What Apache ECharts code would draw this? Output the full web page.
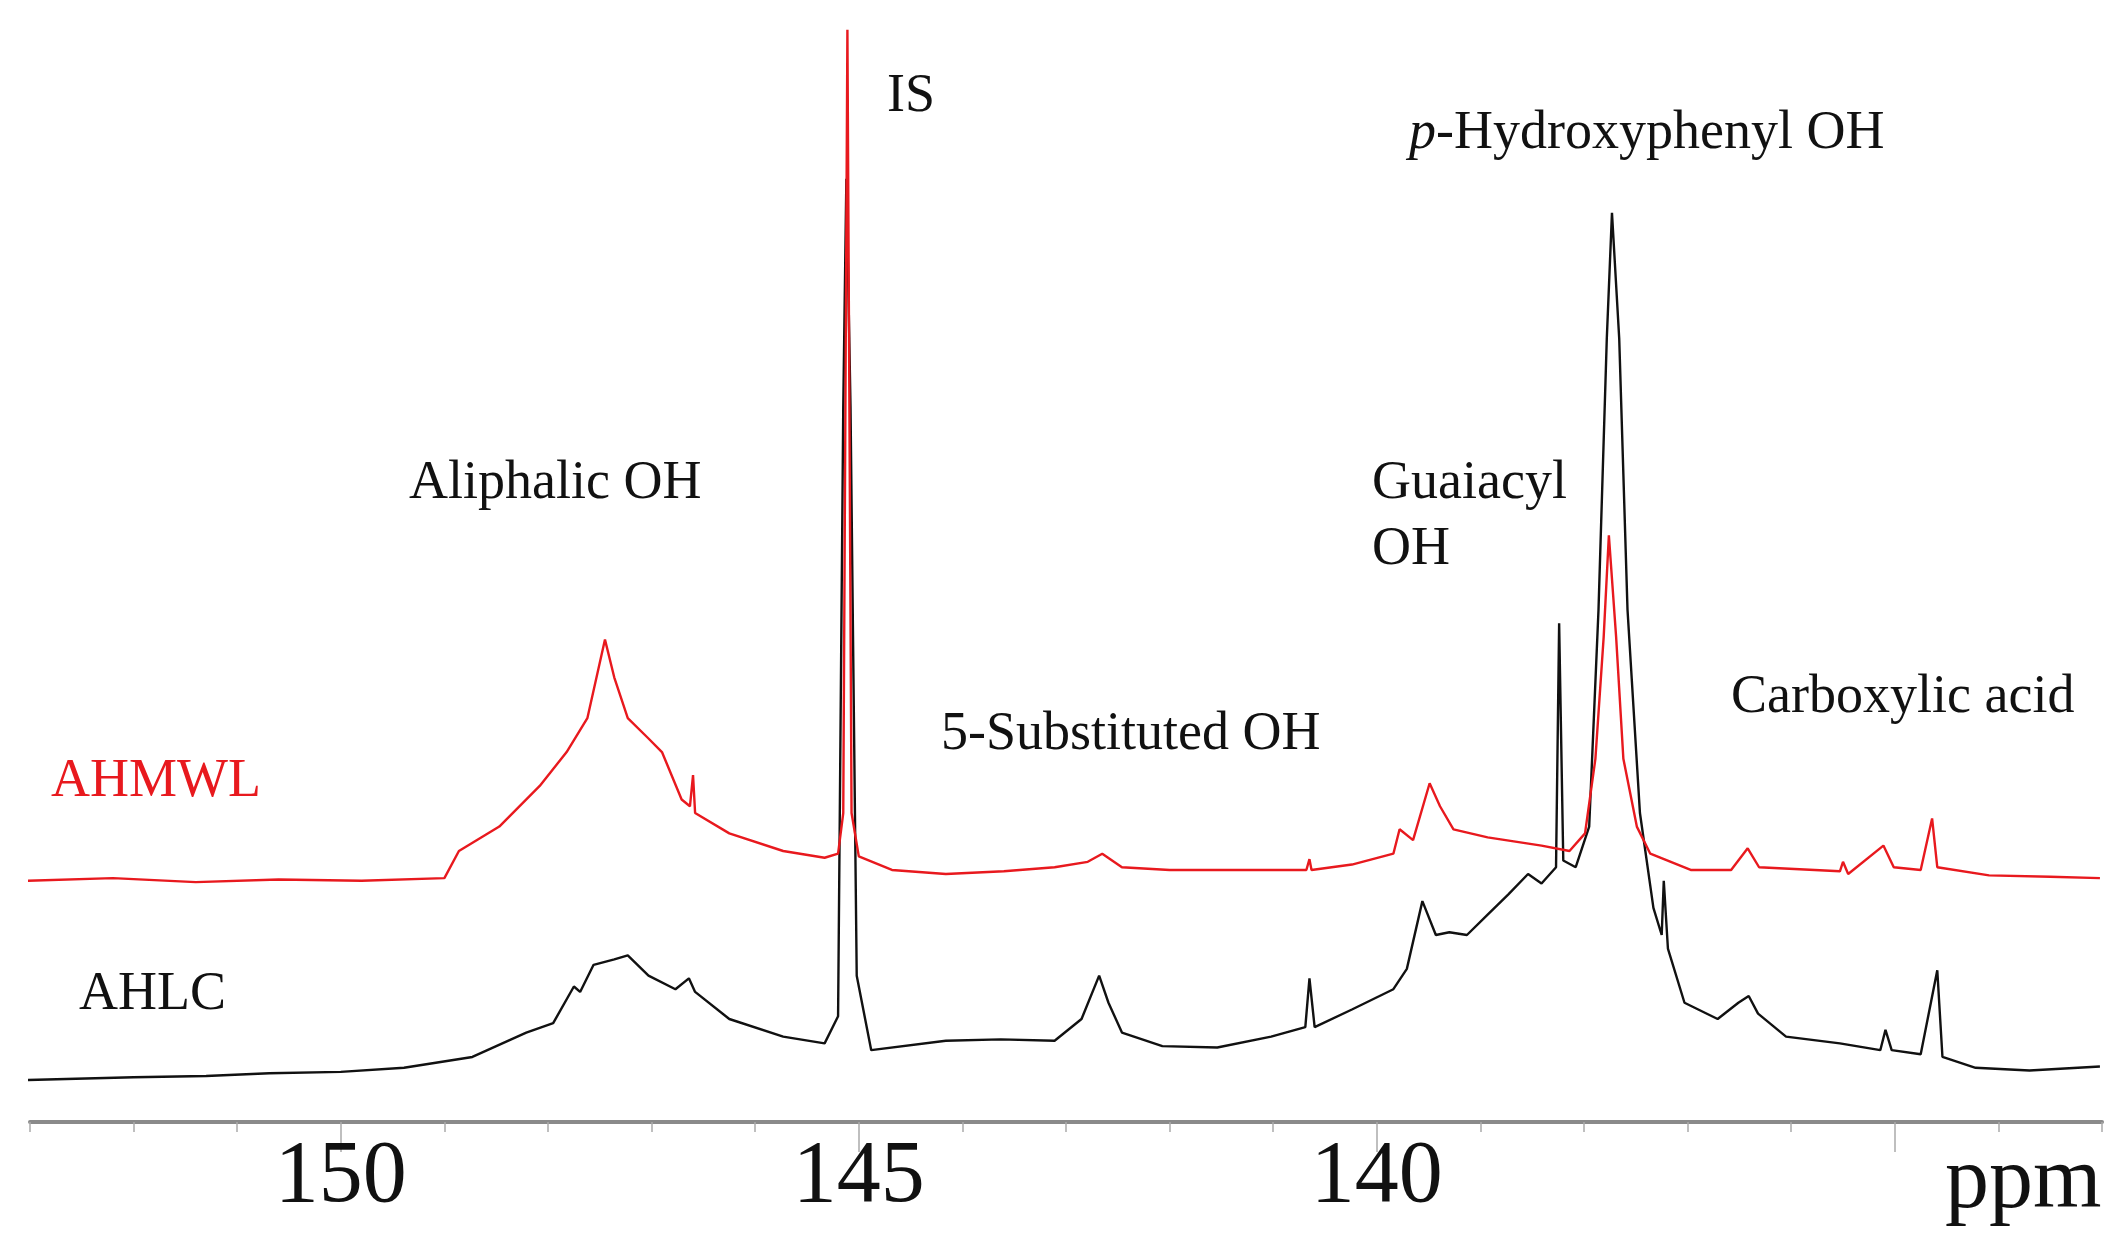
<!DOCTYPE html>
<html><head><meta charset="utf-8">
<script src="https://cdn.jsdelivr.net/npm/echarts@6/dist/echarts.min.js"></script>
<style>html,body{margin:0;padding:0;background:#fff}#c{width:2124px;height:1241px}</style>
</head><body><div id="c"></div>
<script>
// AHMWL (red) spectrum: [ppm, intensity]
const ahmwl = [[153.02,178],[152.2,180],[151.4,177],[150.6,179],[149.8,178],[149.00,180],[148.86,200],[148.47,218],[148.08,248],[147.82,273],[147.62,298],[147.45,356],[147.36,328],[147.23,298],[147.03,283],[146.90,273],[146.71,238],[146.63,233],[146.60,256],[146.58,228],[146.25,213],[145.73,200],[145.33,195],[145.20,198],[145.15,228],[145.11,806],[145.07,228],[145.00,196],[144.68,186],[144.16,183],[143.6,185],[143.11,188],[142.79,192],[142.65,198],[142.46,188],[142.0,186],[141.54,186],[140.68,186],[140.65,194],[140.63,186],[140.24,190],[139.84,198],[139.78,216],[139.65,208],[139.49,250],[139.39,233],[139.26,216],[138.93,210],[138.41,204],[138.14,200],[137.99,213],[137.89,268],[137.81,358],[137.76,433],[137.69,358],[137.62,268],[137.49,218],[137.36,198],[136.97,186],[136.58,186],[136.42,202],[136.31,188],[135.53,185],[135.50,192],[135.45,183],[135.11,204],[135.01,188],[134.75,186],[134.64,224],[134.59,188],[134.09,182],[133.5,181],[133.02,180]];
// AHLC (black) spectrum: [ppm, intensity]
const ahlc = [[153.02,31],[152.00,33],[151.3,34],[150.69,36],[150.0,37],[149.39,40],[148.73,48],[148.21,66],[147.95,73],[147.75,100],[147.69,96],[147.56,116],[147.36,120],[147.23,123],[147.03,108],[146.77,98],[146.64,106],[146.58,96],[146.25,76],[145.73,63],[145.33,58],[145.20,78],[145.15,528],[145.12,696],[145.08,528],[145.02,108],[144.88,53],[144.16,60],[143.63,61],[143.11,60],[142.85,76],[142.68,108],[142.59,88],[142.46,66],[142.07,56],[141.54,55],[141.02,63],[140.69,70],[140.65,106],[140.60,70],[140.24,83],[139.84,98],[139.71,113],[139.56,163],[139.43,138],[139.30,140],[139.13,138],[138.93,153],[138.73,168],[138.54,183],[138.41,176],[138.27,188],[138.24,368],[138.20,193],[138.08,188],[137.95,218],[137.86,378],[137.78,578],[137.73,671],[137.66,578],[137.58,378],[137.46,228],[137.33,158],[137.25,138],[137.23,178],[137.19,128],[137.03,88],[136.71,76],[136.51,88],[136.41,93],[136.32,80],[136.05,63],[135.53,58],[135.14,53],[135.09,68],[135.03,53],[134.75,50],[134.59,112],[134.54,48],[134.22,40],[133.70,38],[133.02,41]];
const tickLabels = [150,145,140];
const majorTicks = [150,145,140,135];

const serif = '"Liberation Serif","DejaVu Serif",serif';
const chart = echarts.init(document.getElementById('c'));
function txt(x,y,t,color,size,extra){return Object.assign({type:'text',left:x,top:y,style:{text:t,fill:color||'#111',font:(size||54)+'px '+serif}},extra||{});}
chart.setOption({
  animation:false,
  grid:{left:30,right:22,top:0,bottom:119},
  xAxis:[{type:'value',min:133,max:153,inverse:true,interval:1,
    axisLine:{lineStyle:{color:'#8a8a8a',width:4}},
    axisTick:{length:10,lineStyle:{color:'#aaa',width:1.5}},
    axisLabel:{customValues:tickLabels,fontFamily:serif,fontSize:88,color:'#111',margin:12},
    splitLine:{show:false}},
   {type:'value',min:133,max:153,inverse:true,position:'bottom',
    axisLine:{show:false},
    axisTick:{customValues:majorTicks,length:30,lineStyle:{color:'#aaa',width:1.5}},
    axisLabel:{show:false},splitLine:{show:false}}],
  yAxis:{type:'value',min:0,max:828,show:false},
  series:[
    {type:'line',data:ahlc,showSymbol:false,lineStyle:{color:'#111',width:2.4},z:2},
    {type:'line',data:ahmwl,showSymbol:false,lineStyle:{color:'#e8191e',width:2.4},z:3}
  ],
  graphic:[
    txt(887,70,'IS'),
    {type:'text',left:1409,top:107,style:{text:'{i|p}-Hydroxyphenyl OH',fill:'#111',font:'54px '+serif,rich:{i:{fontStyle:'italic',font:'italic 54px '+serif,fill:'#111'}}}},
    txt(409,457,'Aliphalic OH'),
    txt(1372,457,'Guaiacyl'),
    txt(1372,523,'OH'),
    txt(941,708,'5-Substituted OH'),
    txt(1731,671,'Carboxylic acid'),
    txt(51,755,'AHMWL','#e8191e'),
    txt(79,968,'AHLC'),
    txt(1945,1140,'ppm','#111',88)
  ]
});
</script></body></html>
